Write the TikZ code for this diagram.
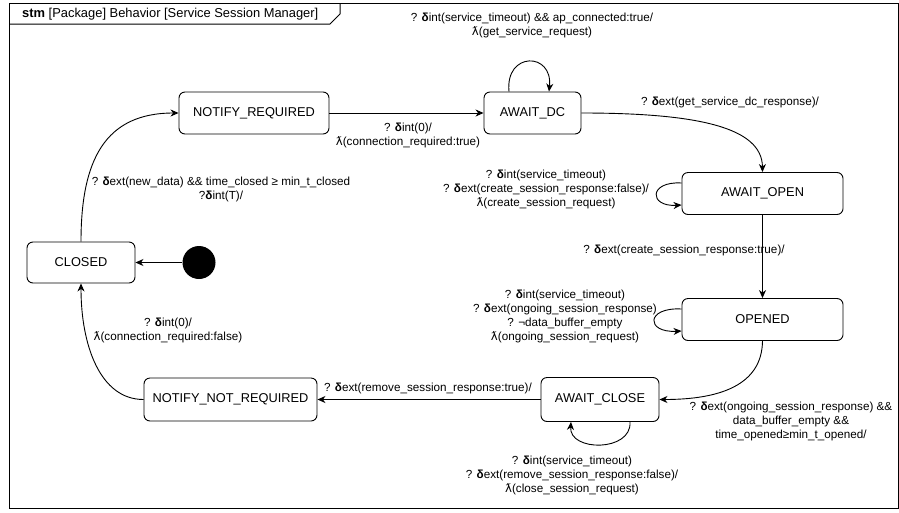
\documentclass[tikz,border=0pt]{standalone}
\usepackage{fontspec}
\setmainfont{Liberation Sans}
\newfontfamily\lamfont{DejaVu Sans}
\usetikzlibrary{arrows.meta}
\newcommand{\dl}{{\bfseries δ}}
\newcommand{\lm}{{\lamfont ƛ}}
\begin{document}
\begin{tikzpicture}[x=1pt,y=-1pt,
  state/.style={draw, rounded corners=6pt, line width=0.9pt, inner sep=0pt,
    font=\fontsize{12.8}{15}\selectfont},
  lbl/.style={inner sep=0pt, align=center, font=\fontsize{11.7}{14}\selectfont},
  tr/.style={draw, line width=0.9pt, -{Stealth[length=8pt,width=7pt,inset=2.5pt]}},
  initial/.style={circle, fill=black, minimum size=33pt, inner sep=0pt}]
\useasboundingbox (0,0) rectangle (899,512);

% diagram frame with its name tab
\draw[line width=1pt] (9,3) rectangle (898,508);
\draw[line width=1pt] (9,24) -- (330,24) -- (340,14) -- (340,3);
\node[anchor=west, inner sep=0pt, font=\fontsize{12.9}{15}\selectfont] (title) at (22,14)
  {\textbf{stm} [Package] Behavior [Service Session Manager]};

% states
\node[state, minimum width=150pt, minimum height=42pt] (nreq) at (254,113) {NOTIFY\_REQUIRED};
\node[state, minimum width=97pt, minimum height=42pt] (dc) at (532.5,113) {AWAIT\_DC};
\node[state, minimum width=161pt, minimum height=42pt] (open) at (762.5,193.5) {AWAIT\_OPEN};
\node[state, minimum width=161pt, minimum height=42pt] (opened) at (762.5,319.5) {OPENED};
\node[state, minimum width=118pt, minimum height=44pt] (aclose) at (600,399.5) {AWAIT\_CLOSE};
\node[state, minimum width=173pt, minimum height=43pt] (nnreq) at (230.5,399.5) {NOTIFY\_NOT\_REQUIRED};
\node[state, minimum width=108pt, minimum height=41pt] (closed) at (81,262.5) {CLOSED};
\node[initial] (init) at (199,262.5) {};

% transitions
\draw[tr] (init) -- (closed);
\draw[tr] (closed.north) .. controls (81,160) and (105,113) .. (nreq.west);
\draw[tr] (nreq) -- (dc);
\draw[tr] ([xshift=-23.5pt]dc.north) .. controls +(-4,-40) and +(4,-40) .. ([xshift=16.5pt]dc.north);
\draw[tr] (dc.east) .. controls (700,113) and (762,128) .. (open.north);
\draw[tr] ([yshift=10.5pt]open.west) .. controls +(-33,-2) and +(-33,2) .. ([yshift=-11.5pt]open.west);
\draw[tr] (open) -- (opened);
\draw[tr] ([yshift=10.5pt]opened.west) .. controls +(-36,-2) and +(-36,2) .. ([yshift=-11.5pt]opened.west);
\draw[tr] (opened.south) .. controls (762,385) and (720,399.5) .. (aclose.east);
\draw[tr] ([xshift=30pt]aclose.south) .. controls +(2,30) and +(-2,30) .. ([xshift=-29pt]aclose.south);
\draw[tr] (aclose) -- (nnreq);
\draw[tr] (nnreq.west) .. controls (100,399.5) and (81,345) .. (closed.south);

% transition labels
\node[lbl] (lnreq) at (408,135.5) {? \dl int(0)/\\ \lm(connection\_required:true)};
\node[lbl] (ldc) at (532,25.5) {? \dl int(service\_timeout) \&\& ap\_connected:true/\\ \lm(get\_service\_request)};
\node[lbl] (ldcopen) at (730,102) {? \dl ext(get\_service\_dc\_response)/};
\node[lbl] (lopen) at (546,189.5) {? \dl int(service\_timeout)\\ ? \dl ext(create\_session\_response:false)/\\ \lm(create\_session\_request)};
\node[lbl] (lopened) at (684,250) {? \dl ext(create\_session\_response:true)/};
\node[lbl] (lloop) at (565,316) {? \dl int(service\_timeout)\\ ? \dl ext(ongoing\_session\_response)\\ ? ¬data\_buffer\_empty\\ \lm(ongoing\_session\_request)};
\node[lbl] (lclosing) at (791,421.5) {? \dl ext(ongoing\_session\_response) \&\&\\ data\_buffer\_empty \&\&\\ time\_opened≥min\_t\_opened/};
\node[lbl] (lacl) at (572,475.5) {? \dl int(service\_timeout)\\ ? \dl ext(remove\_session\_response:false)/\\ \lm(close\_session\_request)};
\node[lbl] (lremove) at (428,388) {? \dl ext(remove\_session\_response:true)/};
\node[lbl] (lnn) at (168,330) {? \dl int(0)/\\ \lm(connection\_required:false)};
\node[lbl] (lclosed) at (221,189) {? \dl ext(new\_data) \&\& time\_closed ≥ min\_t\_closed\\ ?\dl int(T)/};
\end{tikzpicture}
\end{document}
